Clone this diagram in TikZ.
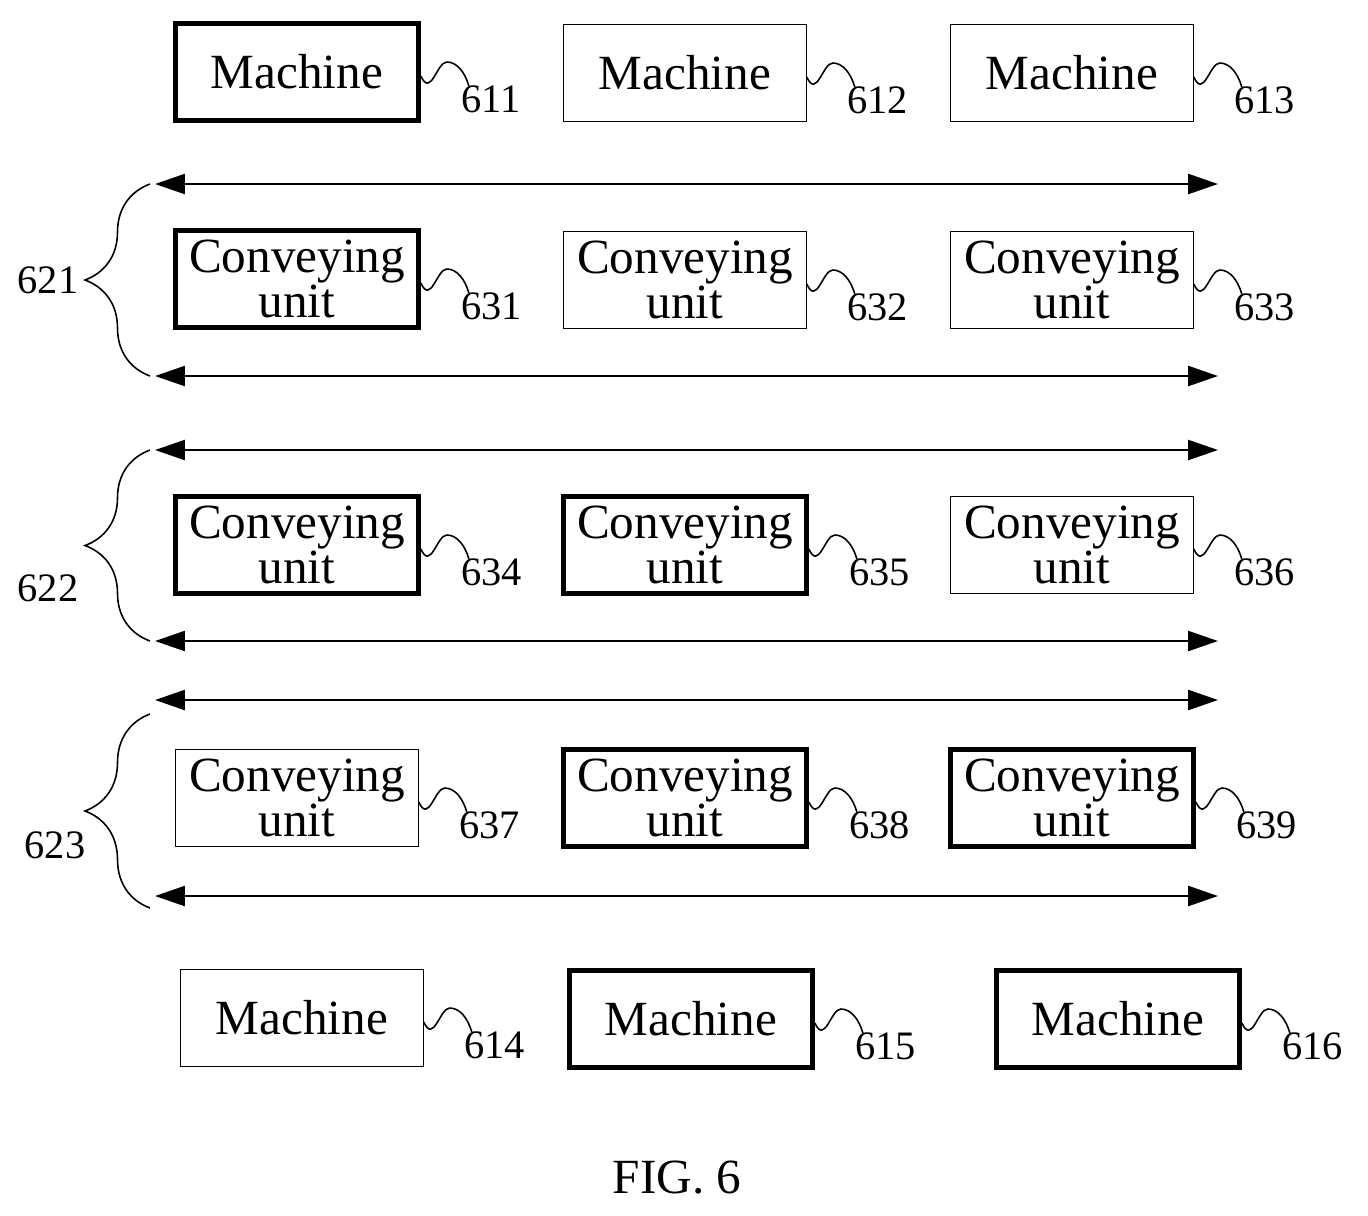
\documentclass[tikz,border=0pt]{standalone}
\usepackage{fontspec}
\setmainfont{Liberation Serif}
\usetikzlibrary{arrows.meta,decorations.pathreplacing,positioning}

\begin{document}
\begin{tikzpicture}[
    x=0.02cm, y=-0.02cm,
    unit/.style={draw, line width=0.6pt, minimum width=4.85cm, minimum height=1.95cm,
                 inner sep=0pt, align=center, font=\fontsize{28}{22}\selectfont},
    sel/.style={unit, line width=3pt},
    num/.style={font=\fontsize{23}{23}\selectfont, inner sep=0pt},
    belt/.style={line width=1.4pt, {Triangle[length=0.6cm,width=0.4cm]}-{Triangle[length=0.6cm,width=0.4cm]}},
    group/.style={line width=0.9pt, decorate, decoration={brace, amplitude=1.3cm}}
]
    \useasboundingbox (0,0) rectangle (1368,1215);

    % machines, top row
    \node[sel]  (m611) at (297,72) {Machine};
    \node[unit] (m612) at (685,73) {Machine};
    \node[unit] (m613) at (1072,73) {Machine};
    % conveying units
    \node[sel]  (u631) at (297,279) {Conveying\\unit};
    \node[unit] (u632) at (685,280) {Conveying\\unit};
    \node[unit] (u633) at (1072,280) {Conveying\\unit};
    \node[sel]  (u634) at (297,545) {Conveying\\unit};
    \node[sel]  (u635) at (685,545) {Conveying\\unit};
    \node[unit] (u636) at (1072,545) {Conveying\\unit};
    \node[unit] (u637) at (297,798) {Conveying\\unit};
    \node[sel]  (u638) at (685,798) {Conveying\\unit};
    \node[sel]  (u639) at (1072,798) {Conveying\\unit};
    % machines, bottom row
    \node[unit] (m614) at (302,1018) {Machine};
    \node[sel]  (m615) at (691,1019) {Machine};
    \node[sel]  (m616) at (1118,1019) {Machine};

    % reference numerals
    \foreach \b/\t in {m611/611,m612/612,m613/613,u631/631,u632/632,u633/633,
                       u634/634,u635/635,u636/636,u637/637,u638/638,u639/639,
                       m614/614,m615/615,m616/616} {
        \draw[line width=0.9pt] (\b.east) ++(0,4) .. controls +(10,22) and +(-10,0) .. ++(26,-14)
            .. controls +(10,0) and +(-4,-14) .. ++(22,24);
        \node[num, right=0.8cm of \b.east, yshift=-0.55cm] (n\t) {\t};
    }

    % belts
    \foreach \y [count=\i] in {184,376,450,641,700,896} {
        \coordinate (bl\i) at (155,\y);
        \coordinate (br\i) at (1218,\y);
        \draw[belt] (bl\i) -- (br\i);
    }

    % groups
    \draw[group] (150,376) -- (150,184);
    \draw[group] (150,641) -- (150,450);
    \draw[group] (150,908) -- (150,714);
    \node[num] (g621) at (48,280) {621};
    \node[num] (g622) at (48,588) {622};
    \node[num] (g623) at (55,845) {623};

    \node[font=\fontsize{28}{28}\selectfont] (fig) at (677,1178) {FIG. 6};
\end{tikzpicture}
\end{document}
